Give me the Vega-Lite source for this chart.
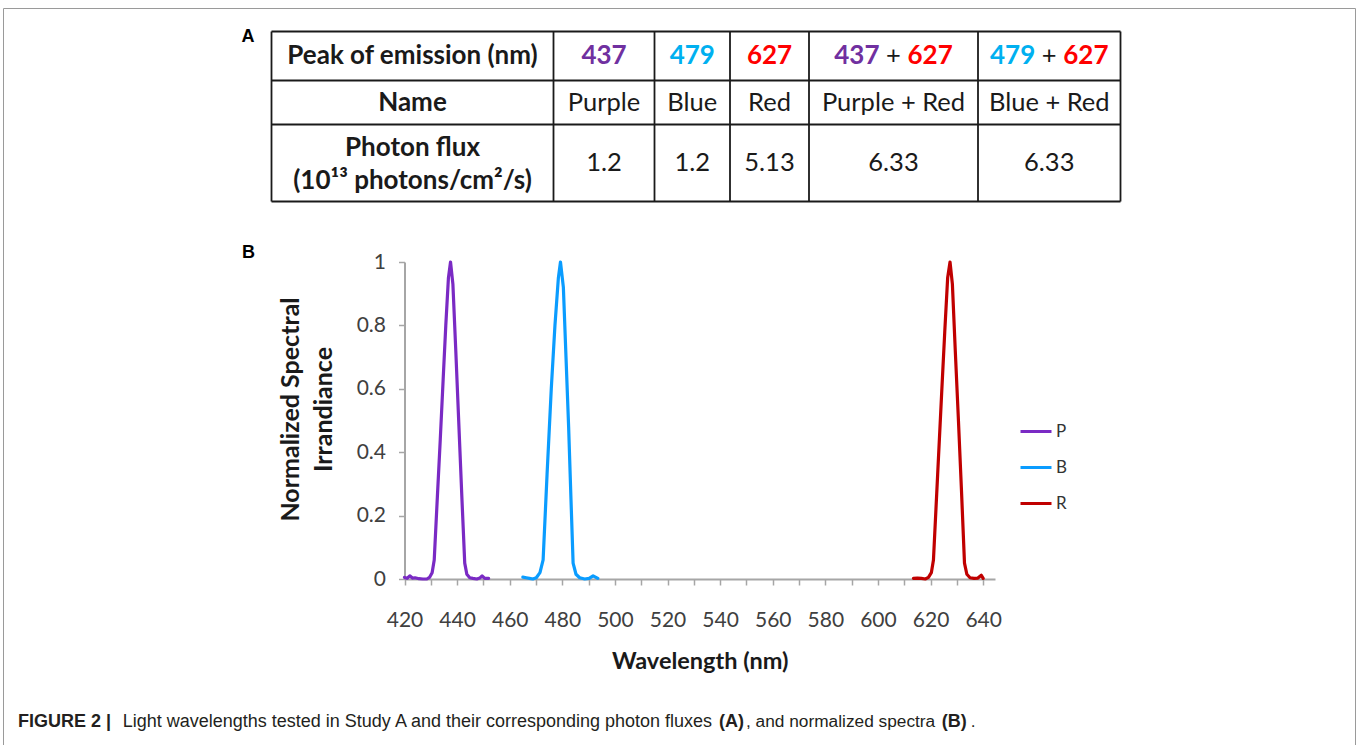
{
  "$schema": "https://vega.github.io/schema/vega-lite/v6.json",
  "width": 1360,
  "height": 745,
  "autosize": {"type": "fit", "contains": "padding"},
  "padding": {"left": 3, "top": 8, "right": 5, "bottom": 0},
  "background": "#ffffff",
  "config": {
    "view": {"stroke": "#9a9a9a", "strokeWidth": 1},
    "font": "Lato"
  },
  "datasets": {
    "spectra": [
      {"led": "P", "wavelength": 420, "irradiance": 0.005},
      {"led": "P", "wavelength": 421, "irradiance": 0.002},
      {"led": "P", "wavelength": 422, "irradiance": 0.01},
      {"led": "P", "wavelength": 423, "irradiance": 0.003},
      {"led": "P", "wavelength": 424, "irradiance": 0.004},
      {"led": "P", "wavelength": 425.5, "irradiance": 0.001},
      {"led": "P", "wavelength": 427, "irradiance": 0.0},
      {"led": "P", "wavelength": 428.5, "irradiance": 0.0},
      {"led": "P", "wavelength": 429.5, "irradiance": 0.005},
      {"led": "P", "wavelength": 430.5, "irradiance": 0.02},
      {"led": "P", "wavelength": 431.3, "irradiance": 0.06},
      {"led": "P", "wavelength": 432.5, "irradiance": 0.26},
      {"led": "P", "wavelength": 433.6, "irradiance": 0.44},
      {"led": "P", "wavelength": 434.7, "irradiance": 0.63},
      {"led": "P", "wavelength": 435.7, "irradiance": 0.8},
      {"led": "P", "wavelength": 436.7, "irradiance": 0.95},
      {"led": "P", "wavelength": 437.5, "irradiance": 1.0},
      {"led": "P", "wavelength": 438.4, "irradiance": 0.93},
      {"led": "P", "wavelength": 439.5, "irradiance": 0.72},
      {"led": "P", "wavelength": 440.7, "irradiance": 0.48},
      {"led": "P", "wavelength": 441.8, "irradiance": 0.26},
      {"led": "P", "wavelength": 442.9, "irradiance": 0.05},
      {"led": "P", "wavelength": 443.7, "irradiance": 0.015},
      {"led": "P", "wavelength": 444.8, "irradiance": 0.004},
      {"led": "P", "wavelength": 446, "irradiance": 0.002},
      {"led": "P", "wavelength": 447.5, "irradiance": 0.0},
      {"led": "P", "wavelength": 448.6, "irradiance": 0.003},
      {"led": "P", "wavelength": 449.5, "irradiance": 0.01},
      {"led": "P", "wavelength": 450.5, "irradiance": 0.002},
      {"led": "P", "wavelength": 452, "irradiance": 0.002},
      {"led": "B", "wavelength": 465, "irradiance": 0.006},
      {"led": "B", "wavelength": 466.3, "irradiance": 0.004},
      {"led": "B", "wavelength": 467.5, "irradiance": 0.002},
      {"led": "B", "wavelength": 468.8, "irradiance": 0.0},
      {"led": "B", "wavelength": 470.1, "irradiance": 0.004},
      {"led": "B", "wavelength": 471.5, "irradiance": 0.02},
      {"led": "B", "wavelength": 472.7, "irradiance": 0.06},
      {"led": "B", "wavelength": 474.2, "irradiance": 0.33},
      {"led": "B", "wavelength": 475.8, "irradiance": 0.6},
      {"led": "B", "wavelength": 477.2, "irradiance": 0.8},
      {"led": "B", "wavelength": 478.5, "irradiance": 0.95},
      {"led": "B", "wavelength": 479.3, "irradiance": 1.0},
      {"led": "B", "wavelength": 480.4, "irradiance": 0.92},
      {"led": "B", "wavelength": 481.4, "irradiance": 0.7},
      {"led": "B", "wavelength": 482.4, "irradiance": 0.48},
      {"led": "B", "wavelength": 483.3, "irradiance": 0.25},
      {"led": "B", "wavelength": 484.1, "irradiance": 0.05},
      {"led": "B", "wavelength": 485.2, "irradiance": 0.015},
      {"led": "B", "wavelength": 486.6, "irradiance": 0.004},
      {"led": "B", "wavelength": 488.5, "irradiance": 0.0},
      {"led": "B", "wavelength": 490.2, "irradiance": 0.002},
      {"led": "B", "wavelength": 491.7, "irradiance": 0.01},
      {"led": "B", "wavelength": 493.5, "irradiance": 0.002},
      {"led": "R", "wavelength": 613.5, "irradiance": 0.002},
      {"led": "R", "wavelength": 615, "irradiance": 0.003},
      {"led": "R", "wavelength": 616.5, "irradiance": 0.002},
      {"led": "R", "wavelength": 618, "irradiance": 0.0},
      {"led": "R", "wavelength": 619.2, "irradiance": 0.005},
      {"led": "R", "wavelength": 620.3, "irradiance": 0.02},
      {"led": "R", "wavelength": 621.1, "irradiance": 0.06},
      {"led": "R", "wavelength": 622.7, "irradiance": 0.33},
      {"led": "R", "wavelength": 624.3, "irradiance": 0.6},
      {"led": "R", "wavelength": 625.4, "irradiance": 0.78},
      {"led": "R", "wavelength": 626.5, "irradiance": 0.95},
      {"led": "R", "wavelength": 627.4, "irradiance": 1.0},
      {"led": "R", "wavelength": 628.3, "irradiance": 0.93},
      {"led": "R", "wavelength": 629.4, "irradiance": 0.72},
      {"led": "R", "wavelength": 630.6, "irradiance": 0.5},
      {"led": "R", "wavelength": 631.8, "irradiance": 0.27},
      {"led": "R", "wavelength": 632.9, "irradiance": 0.05},
      {"led": "R", "wavelength": 633.8, "irradiance": 0.015},
      {"led": "R", "wavelength": 635, "irradiance": 0.004},
      {"led": "R", "wavelength": 636.5, "irradiance": 0.002},
      {"led": "R", "wavelength": 638, "irradiance": 0.003},
      {"led": "R", "wavelength": 639.3, "irradiance": 0.012},
      {"led": "R", "wavelength": 640, "irradiance": 0.002}
    ],
    "cells": [
      {"col": 0.5, "row": 0.5, "role": "header", "light": "none", "text": "Peak of emission (nm)"},
      {"col": 1.5, "row": 0.5, "role": "peak", "light": "P", "text": "437"},
      {"col": 2.5, "row": 0.5, "role": "peak", "light": "B", "text": "479"},
      {"col": 3.5, "row": 0.5, "role": "peak", "light": "R", "text": "627"},
      {"col": 4.5, "row": 0.5, "role": "first", "light": "P", "text": "437"},
      {"col": 4.5, "row": 0.5, "role": "plus", "light": "none", "text": "+"},
      {"col": 4.5, "row": 0.5, "role": "second", "light": "R", "text": "627"},
      {"col": 5.5, "row": 0.5, "role": "first", "light": "B", "text": "479"},
      {"col": 5.5, "row": 0.5, "role": "plus", "light": "none", "text": "+"},
      {"col": 5.5, "row": 0.5, "role": "second", "light": "R", "text": "627"},
      {"col": 0.5, "row": 1.5, "role": "header", "light": "none", "text": "Name"},
      {"col": 1.5, "row": 1.5, "role": "value", "light": "none", "text": "Purple"},
      {"col": 2.5, "row": 1.5, "role": "value", "light": "none", "text": "Blue"},
      {"col": 3.5, "row": 1.5, "role": "value", "light": "none", "text": "Red"},
      {"col": 4.5, "row": 1.5, "role": "value", "light": "none", "text": "Purple + Red"},
      {"col": 5.5, "row": 1.5, "role": "value", "light": "none", "text": "Blue + Red"},
      {"col": 0.5, "row": 2.3, "role": "header", "light": "none", "text": "Photon flux"},
      {"col": 0.5, "row": 2.73, "role": "header", "light": "none", "text": "(10¹³ photons/cm²/s)"},
      {"col": 1.5, "row": 2.5, "role": "value", "light": "none", "text": "1.2"},
      {"col": 2.5, "row": 2.5, "role": "value", "light": "none", "text": "1.2"},
      {"col": 3.5, "row": 2.5, "role": "value", "light": "none", "text": "5.13"},
      {"col": 4.5, "row": 2.5, "role": "value", "light": "none", "text": "6.33"},
      {"col": 5.5, "row": 2.5, "role": "value", "light": "none", "text": "6.33"}
    ],
    "vlines": [{"col": 0}, {"col": 1}, {"col": 2}, {"col": 3}, {"col": 4}, {"col": 5}, {"col": 6}],
    "hlines": [{"row": 0}, {"row": 1}, {"row": 2}, {"row": 3}],
    "caption": [
      {"seg": 0, "emphasis": "bold", "text": "FIGURE 2 |"},
      {"seg": 1, "emphasis": "long", "text": "Light wavelengths tested in Study A and their corresponding photon fluxes"},
      {"seg": 2, "emphasis": "bold", "text": "(A)"},
      {"seg": 3, "emphasis": "normal", "text": ", and normalized spectra"},
      {"seg": 4, "emphasis": "bold", "text": "(B)"},
      {"seg": 5, "emphasis": "normal", "text": "."}
    ]
  },
  "layer": [
    {
      "layer": [
        {
          "data": {"name": "vlines"},
          "mark": {"type": "rule", "color": "#1a1a1a", "strokeWidth": 1.8},
          "encoding": {
            "x": {"field": "col", "type": "quantitative", "axis": null,
                  "scale": {"domain": [0, 1, 2, 3, 4, 5, 6], "range": [268.5, 550.5, 651.5, 727, 806, 975, 1117.5], "nice": false, "zero": false}},
            "y": {"datum": 0, "type": "quantitative", "axis": null,
                  "scale": {"domain": [0, 1, 2, 3], "range": [23.5, 72.5, 116.5, 193.5], "nice": false, "zero": false}},
            "y2": {"datum": 3}
          }
        },
        {
          "data": {"name": "hlines"},
          "mark": {"type": "rule", "color": "#1a1a1a", "strokeWidth": 1.8},
          "encoding": {
            "y": {"field": "row", "type": "quantitative", "axis": null,
                  "scale": {"domain": [0, 1, 2, 3], "range": [23.5, 72.5, 116.5, 193.5], "nice": false, "zero": false}},
            "x": {"datum": 0, "type": "quantitative", "axis": null,
                  "scale": {"domain": [0, 1, 2, 3, 4, 5, 6], "range": [268.5, 550.5, 651.5, 727, 806, 975, 1117.5], "nice": false, "zero": false}},
            "x2": {"datum": 6}
          }
        },
        {
          "data": {"name": "cells"},
          "transform": [{"filter": "datum.role === 'header' || datum.role === 'peak'"}],
          "mark": {"type": "text", "font": "Lato", "fontSize": 26, "fontWeight": "bold", "align": "center", "baseline": "middle"},
          "encoding": {
            "x": {"field": "col", "type": "quantitative", "axis": null,
                  "scale": {"domain": [0, 1, 2, 3, 4, 5, 6], "range": [268.5, 550.5, 651.5, 727, 806, 975, 1117.5], "nice": false, "zero": false}},
            "y": {"field": "row", "type": "quantitative", "axis": null,
                  "scale": {"domain": [0, 1, 2, 3], "range": [23.5, 72.5, 116.5, 193.5], "nice": false, "zero": false}},
            "text": {"field": "text", "type": "nominal"},
            "color": {"field": "light", "type": "nominal", "legend": null,
                      "scale": {"domain": ["P", "B", "R", "none"], "range": ["#7030a0", "#00b0f0", "#ff0000", "#1a1a1a"]}}
          }
        },
        {
          "data": {"name": "cells"},
          "transform": [{"filter": "datum.role === 'value' || datum.role === 'plus'"}],
          "mark": {"type": "text", "font": "Lato", "fontSize": 25.5, "align": "center", "baseline": "middle"},
          "encoding": {
            "x": {"field": "col", "type": "quantitative", "axis": null,
                  "scale": {"domain": [0, 1, 2, 3, 4, 5, 6], "range": [268.5, 550.5, 651.5, 727, 806, 975, 1117.5], "nice": false, "zero": false}},
            "y": {"field": "row", "type": "quantitative", "axis": null,
                  "scale": {"domain": [0, 1, 2, 3], "range": [23.5, 72.5, 116.5, 193.5], "nice": false, "zero": false}},
            "text": {"field": "text", "type": "nominal"},
            "color": {"field": "light", "type": "nominal", "legend": null,
                      "scale": {"domain": ["P", "B", "R", "none"], "range": ["#7030a0", "#00b0f0", "#ff0000", "#1a1a1a"]}}
          }
        },
        {
          "data": {"name": "cells"},
          "transform": [{"filter": "datum.role === 'first'"}],
          "mark": {"type": "text", "font": "Lato", "fontSize": 26, "fontWeight": "bold", "align": "right", "baseline": "middle", "dx": -14},
          "encoding": {
            "x": {"field": "col", "type": "quantitative", "axis": null,
                  "scale": {"domain": [0, 1, 2, 3, 4, 5, 6], "range": [268.5, 550.5, 651.5, 727, 806, 975, 1117.5], "nice": false, "zero": false}},
            "y": {"field": "row", "type": "quantitative", "axis": null,
                  "scale": {"domain": [0, 1, 2, 3], "range": [23.5, 72.5, 116.5, 193.5], "nice": false, "zero": false}},
            "text": {"field": "text", "type": "nominal"},
            "color": {"field": "light", "type": "nominal", "legend": null,
                      "scale": {"domain": ["P", "B", "R", "none"], "range": ["#7030a0", "#00b0f0", "#ff0000", "#1a1a1a"]}}
          }
        },
        {
          "data": {"name": "cells"},
          "transform": [{"filter": "datum.role === 'second'"}],
          "mark": {"type": "text", "font": "Lato", "fontSize": 26, "fontWeight": "bold", "align": "left", "baseline": "middle", "dx": 14},
          "encoding": {
            "x": {"field": "col", "type": "quantitative", "axis": null,
                  "scale": {"domain": [0, 1, 2, 3, 4, 5, 6], "range": [268.5, 550.5, 651.5, 727, 806, 975, 1117.5], "nice": false, "zero": false}},
            "y": {"field": "row", "type": "quantitative", "axis": null,
                  "scale": {"domain": [0, 1, 2, 3], "range": [23.5, 72.5, 116.5, 193.5], "nice": false, "zero": false}},
            "text": {"field": "text", "type": "nominal"},
            "color": {"field": "light", "type": "nominal", "legend": null,
                      "scale": {"domain": ["P", "B", "R", "none"], "range": ["#7030a0", "#00b0f0", "#ff0000", "#1a1a1a"]}}
          }
        },
        {
          "data": {"values": [{"panel": "A"}]},
          "mark": {"type": "text", "font": "Liberation Sans", "fontSize": 18, "fontWeight": "bold", "align": "center", "baseline": "middle", "dx": -23.5, "dy": 5, "color": "#000000"},
          "encoding": {
            "x": {"datum": 0, "type": "quantitative", "axis": null,
                  "scale": {"domain": [0, 1, 2, 3, 4, 5, 6], "range": [268.5, 550.5, 651.5, 727, 806, 975, 1117.5], "nice": false, "zero": false}},
            "y": {"datum": 0, "type": "quantitative", "axis": null,
                  "scale": {"domain": [0, 1, 2, 3], "range": [23.5, 72.5, 116.5, 193.5], "nice": false, "zero": false}},
            "text": {"field": "panel", "type": "nominal"}
          }
        }
      ]
    },
    {
      "layer": [
        {
          "data": {"name": "spectra"},
          "mark": {"type": "line", "strokeWidth": 3.2, "strokeJoin": "round", "strokeCap": "round"},
          "encoding": {
            "x": {"field": "wavelength", "type": "quantitative",
                  "scale": {"domain": [420, 644.5], "range": [401.5, 992], "nice": false, "zero": false},
                  "axis": {
                    "orient": "bottom", "offset": -166, "grid": false,
                    "values": [420, 430, 440, 450, 460, 470, 480, 490, 500, 510, 520, 530, 540, 550, 560, 570, 580, 590, 600, 610, 620, 630, 640],
                    "labelExpr": "datum.value % 20 === 0 ? '' + datum.value : ''",
                    "labelOverlap": false, "labelFlush": false,
                    "domainColor": "#a6a6a6", "domainWidth": 2,
                    "tickColor": "#a6a6a6", "tickWidth": 1.5, "tickSize": 6,
                    "labelFont": "Lato", "labelFontSize": 21, "labelColor": "#404040", "labelPadding": 24,
                    "title": "Wavelength (nm)", "titleFont": "Lato", "titleFontSize": 23.5, "titleFontWeight": "bold",
                    "titleColor": "#1a1a1a", "titlePadding": 19
                  }},
            "y": {"field": "irradiance", "type": "quantitative",
                  "scale": {"domain": [0, 1], "range": [571, 254], "nice": false, "zero": false},
                  "axis": {
                    "orient": "left", "offset": -401.5, "grid": false,
                    "values": [0, 0.2, 0.4, 0.6, 0.8, 1],
                    "labelExpr": "'' + datum.value",
                    "domainColor": "#a6a6a6", "domainWidth": 2,
                    "tickColor": "#a6a6a6", "tickWidth": 1.5, "tickSize": 6,
                    "labelFont": "Lato", "labelFontSize": 21, "labelColor": "#404040", "labelPadding": 13,
                    "title": ["Normalized Spectral", "Irrandiance"], "titleFont": "Lato", "titleFontSize": 25,
                    "titleFontWeight": "bold", "titleColor": "#1a1a1a", "titlePadding": 20, "titleLineHeight": 33,
                    "titleY": 401
                  }},
            "color": {"field": "led", "type": "nominal",
                      "scale": {"domain": ["P", "B", "R"], "range": ["#7a2ac4", "#0a9cff", "#c00000"]},
                      "legend": {
                        "orient": "none", "legendX": 1016, "legendY": 406.5, "title": null, "padding": 0,
                        "symbolType": "stroke", "symbolSize": 961, "symbolStrokeWidth": 3,
                        "labelFont": "Lato", "labelFontSize": 17, "labelColor": "#333333",
                        "labelOffset": 3, "rowPadding": 11
                      }}
          }
        },
        {
          "data": {"values": [{"panel": "B"}]},
          "mark": {"type": "text", "font": "Liberation Sans", "fontSize": 18, "fontWeight": "bold", "align": "center", "baseline": "middle", "dx": -156, "dy": -9.5, "color": "#000000"},
          "encoding": {
            "x": {"datum": 420, "type": "quantitative"},
            "y": {"datum": 1, "type": "quantitative"},
            "text": {"field": "panel", "type": "nominal"}
          }
        }
      ]
    },
    {
      "data": {"name": "caption"},
      "layer": [
        {
          "transform": [{"filter": "datum.emphasis === 'bold'"}],
          "mark": {"type": "text", "font": "Liberation Sans", "fontSize": 18, "fontWeight": "bold", "align": "left", "baseline": "middle", "color": "#231f20"},
          "encoding": {
            "x": {"field": "seg", "type": "quantitative", "axis": null,
                  "scale": {"domain": [0, 1, 2, 3, 4, 5], "range": [15, 119.7, 716, 743, 938.7, 967.7], "nice": false, "zero": false}},
            "y": {"datum": 0, "type": "quantitative", "axis": null,
                  "scale": {"domain": [0, 1], "range": [713.5, 0], "nice": false, "zero": false}},
            "text": {"field": "text", "type": "nominal"}
          }
        },
        {
          "transform": [{"filter": "datum.emphasis === 'long'"}],
          "mark": {"type": "text", "font": "Liberation Sans", "fontSize": 18, "align": "left", "baseline": "middle", "color": "#231f20"},
          "encoding": {
            "x": {"field": "seg", "type": "quantitative", "axis": null,
                  "scale": {"domain": [0, 1, 2, 3, 4, 5], "range": [15, 119.7, 716, 743, 938.7, 967.7], "nice": false, "zero": false}},
            "y": {"datum": 0, "type": "quantitative", "axis": null,
                  "scale": {"domain": [0, 1], "range": [713.5, 0], "nice": false, "zero": false}},
            "text": {"field": "text", "type": "nominal"}
          }
        },
        {
          "transform": [{"filter": "datum.emphasis === 'normal'"}],
          "mark": {"type": "text", "font": "Liberation Sans", "fontSize": 17.3, "align": "left", "baseline": "middle", "color": "#231f20"},
          "encoding": {
            "x": {"field": "seg", "type": "quantitative", "axis": null,
                  "scale": {"domain": [0, 1, 2, 3, 4, 5], "range": [15, 119.7, 716, 743, 938.7, 967.7], "nice": false, "zero": false}},
            "y": {"datum": 0, "type": "quantitative", "axis": null,
                  "scale": {"domain": [0, 1], "range": [713.5, 0], "nice": false, "zero": false}},
            "text": {"field": "text", "type": "nominal"}
          }
        }
      ]
    }
  ],
  "resolve": {"scale": {"x": "independent", "y": "independent", "color": "independent"}}
}
